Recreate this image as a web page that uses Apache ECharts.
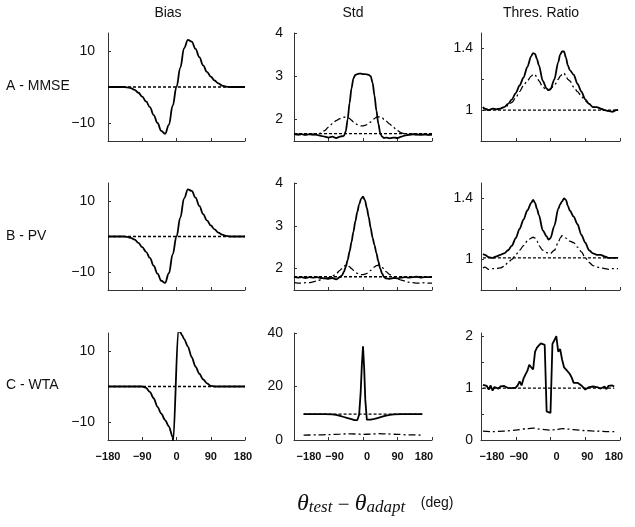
<!DOCTYPE html>
<html>
<head>
<meta charset="utf-8">
<script src="https://cdn.jsdelivr.net/npm/echarts@6/dist/echarts.min.js"></script>
<style>
html,body{margin:0;padding:0;background:#fff;}
#chart{width:635px;height:527px;}
</style>
</head>
<body>
<div id="chart"></div>
<script>
// ---------- data ----------
const colTitles = ['Bias', 'Std', 'Thres. Ratio'];
const rowTitles = ['A - MMSE', 'B - PV', 'C - WTA'];
const xTicks = [-180, -90, 0, 90, 180];

// Column 1 : Bias
const biasX = [-180,-170,-160,-150,-140,-130,-120,-110,-100,-90,-80,-70,-60,-50,-40,-30,-20,-10,0,10,20,30,40,50,60,70,80,90,100,110,120,130,140,150,160,170,180];
const biasMMSE = [0,0,0,0,0,-0.1,-0.3,-0.8,-1.6,-2.7,-4.0,-5.6,-7.8,-10.0,-12.2,-13.0,-10.5,-5.2,0,5.4,10.8,13.1,12.6,10.6,8.3,6.0,4.2,2.9,1.8,1.0,0.4,0.1,0,0,0,0,0];
const biasPV = [0,0,0,0,0,-0.1,-0.4,-0.9,-1.8,-3.0,-4.3,-6.0,-8.2,-10.4,-12.4,-13.0,-10.3,-5.0,0,5.3,10.7,13.2,12.8,10.9,8.6,6.3,4.5,3.1,2.0,1.1,0.5,0.2,0,0,0,0,0];
const biasWTAX = [-180,-160,-140,-120,-100,-90,-80,-70,-60,-50,-40,-30,-20,-10,-9,5,10,15,20,30,40,50,60,70,80,90,100,120,140,160,180];
const biasWTA = [0,0,0,0,0,0,-0.4,-1.5,-3.3,-5.7,-7.6,-9.4,-11.2,-14.2,-15.5,16,15.2,14.3,13.3,11.2,8.2,5.6,3.6,2.0,0.9,0.2,0,0,0,0,0];
const biasRefX = [-180, 180];
const biasRef = [0, 0];

// Column 2 : Std
const stdX = [-180,-170,-160,-150,-140,-130,-120,-110,-100,-90,-80,-70,-60,-55,-50,-45,-40,-35,-30,-25,-20,-15,-10,-5,0,5,10,15,20,25,30,35,40,45,50,55,60,70,80,90,100,110,120,130,140,150,160,170,180];
const stdMMSE = [1.67,1.65,1.66,1.64,1.66,1.65,1.64,1.62,1.6,1.58,1.6,1.57,
  1.6,1.61,1.62,1.72,2.0,2.38,2.72,2.95,3.03,3.05,3.06,3.06,3.05,3.05,3.04,3.03,3.0,2.85,2.55,2.2,1.9,1.68,1.6,1.57,1.58,
  1.56,1.58,1.57,1.6,1.63,1.64,1.66,1.65,1.64,1.65,1.64,1.65];
const stdMMSEdd = [1.65,1.65,1.65,1.65,1.65,1.65,1.66,1.68,1.74,1.82,1.9,1.97,
  2.02,2.04,2.05,2.06,2.05,2.02,1.98,1.94,1.91,1.88,1.86,1.85,1.85,1.86,1.88,1.91,1.94,1.98,2.02,2.05,2.06,2.06,2.04,2.0,1.96,
  1.89,1.81,1.74,1.69,1.66,1.65,1.65,1.65,1.65,1.65,1.65,1.65];
const stdMMSEref = [1.67, 1.67];
const stdPV = [1.81,1.79,1.8,1.78,1.8,1.79,1.8,1.78,1.77,1.76,1.78,1.75,
  1.8,1.84,1.92,2.04,2.2,2.4,2.62,2.86,3.1,3.32,3.5,3.63,3.68,3.6,3.42,3.2,2.95,2.72,2.55,2.36,2.17,2.0,1.88,1.8,1.77,
  1.76,1.78,1.77,1.79,1.8,1.79,1.8,1.81,1.79,1.8,1.8,1.8];
const stdPVdd = [1.67,1.66,1.66,1.67,1.67,1.69,1.71,1.74,1.77,1.79,1.82,1.88,
  1.96,2.0,2.05,2.08,2.07,2.04,2.0,1.96,1.92,1.89,1.87,1.86,1.86,1.87,1.89,1.92,1.96,2.0,2.04,2.07,2.08,2.07,2.03,1.98,1.93,
  1.86,1.8,1.76,1.73,1.71,1.68,1.67,1.66,1.66,1.67,1.66,1.66];
const stdPVref = [1.81, 1.81];
const stdRefX = [-180, 180];
const stdWTAX = [-155,-140,-120,-100,-80,-70,-60,-50,-40,-30,-22,-15,-10,-6,-3,0,3,6,10,15,20,30,40,50,60,70,80,100,120,140,155];
const stdWTA = [9.7,9.7,9.7,9.7,9.6,9.4,9.0,8.6,8.2,7.8,7.4,7.4,9.5,18,28,35,27,15,7.6,7.5,7.6,7.9,8.3,8.7,9.1,9.4,9.6,9.7,9.7,9.7,9.7];
const stdWTAddX = [-155,-120,-90,-60,-40,-20,0,20,40,60,90,120,155];
const stdWTAdd = [1.8,1.9,2.0,2.2,2.3,2.25,2.1,2.2,2.35,2.3,2.1,1.9,1.85];
const stdWTArefX = [-155, 155];
const stdWTAref = [9.7, 9.7];

// Column 3 : Threshold ratio
const thrX = [-175,-170,-160,-150,-140,-130,-120,-110,-100,-90,-80,-70,-60,-50,-45,-40,-35,-30,-20,-10,-5,0,10,20,25,30,35,40,45,50,60,70,80,90,100,110,120,130,140,150,160,170,175];
const thrMMSE = [1.02,1.01,
  1.0,1.01,1.005,1.01,1.02,1.04,1.07,1.11,1.16,1.21,1.28,1.35,
  1.37,1.365,1.33,1.29,
  1.19,1.14,1.13,1.135,
  1.2,1.31,1.36,1.38,1.38,1.34,1.29,1.26,
  1.23,1.17,1.12,1.07,1.04,1.02,1.02,1.01,1.0,0.995,0.99,1.0,
  1.0];
const thrMMSEdd = [1.02,1.01,
  1.0,1.01,1.005,1.01,1.02,1.03,1.05,1.08,1.12,1.16,1.19,1.22,
  1.23,1.23,1.21,1.19,
  1.15,1.13,1.13,1.14,
  1.16,1.2,1.22,1.23,1.24,1.22,1.2,1.19,
  1.15,1.12,1.09,1.06,1.04,1.02,1.02,1.01,1.0,0.995,0.99,1.0,
  1.0];
const thrPV = [1.035,1.03,
  1.015,1.01,1.02,1.03,1.04,1.06,1.09,1.14,1.2,1.26,1.32,1.37,
  1.39,1.37,1.33,1.29,
  1.19,1.15,1.13,1.14,
  1.22,1.33,1.36,1.38,1.4,1.39,1.35,1.32,
  1.28,1.23,1.16,1.11,1.06,1.04,1.03,1.03,1.02,1.01,1.01,1.01,
  1.01];
const thrPVdd = [0.945,0.95,
  0.935,0.94,0.94,0.945,0.955,0.98,1.0,1.03,1.06,1.09,1.12,1.14,
  1.145,1.14,1.12,1.09,
  1.06,1.045,1.04,1.04,
  1.06,1.11,1.14,1.155,1.15,1.14,1.13,1.12,
  1.11,1.08,1.05,1.01,0.98,0.96,0.95,0.945,0.94,0.935,0.94,0.94,
  0.94];
const thrRefX = [-175, 175];
const thrMMSEref = [1.0, 1.0];
const thrPVref = [1.01, 1.01];
const thrWTAX = [-175,-170,-165,-160,-155,-150,-145,-140,-135,-130,-125,-120,-115,-110,-105,-100,
  -95,-90,-85,-80,-75,-70,-65,-60,-55,-50,-45,-40,-35,-30,-25,-20,-15,-10,-5,0,
  5,10,15,20,25,30,35,40,45,50,55,60,65,70,75,80,85,90,95,100,
  105,110,115,120,125,130,135,140,145,150,155,160,165];
const thrWTA = [1.06,1.03,1.04,0.97,1.05,0.95,1.02,1.04,0.99,1.03,1.01,1.04,1.03,1.0,1.01,1.0,
  1.02,1.01,1.05,1.13,1.05,1.18,1.26,1.33,1.45,1.4,1.36,1.7,1.78,1.82,1.86,1.85,1.83,0.55,0.52,0.52,
  1.85,1.92,2.0,1.7,1.75,1.55,1.4,1.36,1.33,1.27,1.2,1.1,1.09,1.1,1.07,1.05,1.02,0.97,1.0,1.02,
  1.01,1.03,1.01,1.02,1.0,0.99,0.97,1.03,0.98,1.04,1.02,1.05,1.03];
const thrWTAddX = [-175,-150,-120,-90,-60,-45,-30,-15,0,15,30,45,60,90,120,150,165];
const thrWTAdd = [0.17,0.16,0.17,0.19,0.22,0.23,0.21,0.2,0.19,0.2,0.22,0.21,0.2,0.18,0.17,0.16,0.16];
const thrWTArefX = [-175, 165];
const thrWTAref = [1.0, 1.0];

// y-axis ranges / ticks / labels per panel (row-major)
const yMin = [-15, 1.5, 0.8, -15, 1.5, 0.8, -15, 0, 0];
const yMax = [15, 4, 1.5, 15, 4, 1.5, 15, 40, 2.06];
const yLabelVals = [[-10,10],[2,3,4],[1,1.4],[-10,10],[2,3,4],[1,1.4],[-10,10],[0,20,40],[0,1,2]];
const yTickVals = [[-10,0,10],[2,3,4],[1,1.2,1.4],[-10,0,10],[2,3,4],[1,1.2,1.4],[-10,0,10],[0,20,40],[0,0.5,1,1.5,2]];

// ---------- layout ----------
const colLeft = [108, 294, 481];
const colWidth = [137, 138, 139];
const rowTop = [33, 183, 333];
const rowHeight = [108, 107, 107];
const labelMargin = [13, 11, 8];
// horizontal nudges of the bottom tick labels (px), per column, per tick
const xLabelShift = [[0, 0, 0, 0, -2], [15, 6, 4, 0, -8], [11, 3, 6, 2, -6]];

const pairs = (xs, ys) => xs.map((x, i) => [x, ys[i]]);
const minus = v => (v < 0 ? '\u2212' + (-v) : String(v));

const SOLID = { color: '#000', width: 1.8, type: 'solid' };
const DOTTED = { color: '#000', width: 1.3, type: [3, 2] };
const DASHDOT = { color: '#000', width: 1.3, type: [7, 3, 2, 3] };

const grids = [], xAxes = [], yAxes = [];
for (let r = 0; r < 3; r++) {
  for (let c = 0; c < 3; c++) {
    const i = r * 3 + c;
    grids.push({ left: colLeft[c], top: rowTop[r], width: colWidth[c], height: rowHeight[r], containLabel: false });
    const rich = {};
    xTicks.forEach((t, k) => {
      const s = xLabelShift[c][k];
      rich['p' + k] = {
        fontSize: 11, fontWeight: 'bold', color: '#111', fontFamily: 'Liberation Sans, Arial, sans-serif',
        padding: s >= 0 ? [0, 0, 0, 2 * s] : [0, -2 * s, 0, 0]
      };
    });
    xAxes.push({
      type: 'value', gridIndex: i, min: -180, max: 180, interval: 90,
      axisLine: { onZero: false, lineStyle: { color: '#333', width: 1 } },
      axisTick: { inside: true, length: 3, lineStyle: { color: '#333' } },
      splitLine: { show: false },
      axisLabel: {
        show: r === 2, fontSize: 11, fontWeight: 'bold', color: '#111',
        fontFamily: 'Liberation Sans, Arial, sans-serif', margin: 11,
        formatter: v => '{p' + xTicks.indexOf(v) + '|' + minus(v) + '}',
        rich: rich
      }
    });
    yAxes.push({
      type: 'value', gridIndex: i, min: yMin[i], max: yMax[i],
      axisLine: { show: true, onZero: false, lineStyle: { color: '#333', width: 1 } },
      axisTick: { show: true, inside: true, length: 3, customValues: yTickVals[i], lineStyle: { color: '#333' } },
      splitLine: { show: false },
      axisLabel: {
        customValues: yLabelVals[i], fontSize: 14, color: '#111',
        fontFamily: 'Liberation Sans, Arial, sans-serif', margin: labelMargin[c],
        formatter: minus
      }
    });
  }
}

const series = [];
function add(i, xs, ys, style, smooth) {
  series.push({
    type: 'line', xAxisIndex: i, yAxisIndex: i, data: pairs(xs, ys),
    symbol: 'none', showSymbol: false, lineStyle: style,
    smooth: smooth || false, smoothMonotone: 'x', clip: true, silent: true, animation: false
  });
}
// row A
add(0, biasRefX, biasRef, DOTTED);
add(0, biasX, biasMMSE, SOLID, 0.4);
add(1, stdRefX, stdMMSEref, DOTTED);
add(1, stdX, stdMMSEdd, DASHDOT, 0.3);
add(1, stdX, stdMMSE, SOLID, 0.3);
add(2, thrRefX, thrMMSEref, DOTTED);
add(2, thrX, thrMMSEdd, DASHDOT, 0.3);
add(2, thrX, thrMMSE, SOLID, 0.3);
// row B
add(3, biasRefX, biasRef, DOTTED);
add(3, biasX, biasPV, SOLID, 0.4);
add(4, stdRefX, stdPVref, DOTTED);
add(4, stdX, stdPVdd, DASHDOT, 0.3);
add(4, stdX, stdPV, SOLID, 0.3);
add(5, thrRefX, thrPVref, DOTTED);
add(5, thrX, thrPVdd, DASHDOT, 0.3);
add(5, thrX, thrPV, SOLID, 0.3);
// row C
add(6, biasRefX, biasRef, DOTTED);
add(6, biasWTAX, biasWTA, SOLID, 0.3);
add(7, stdWTArefX, stdWTAref, DOTTED);
add(7, stdWTAddX, stdWTAdd, DASHDOT, 0.3);
add(7, stdWTAX, stdWTA, SOLID, false);
add(8, thrWTArefX, thrWTAref, DOTTED);
add(8, thrWTAddX, thrWTAdd, DASHDOT, 0.3);
add(8, thrWTAX, thrWTA, SOLID, false);

// texts
const colTitleX = [168, 353, 541];
const rowTitleY = [86, 236, 385];
const graphics = [];
colTitles.forEach((t, c) => graphics.push({
  type: 'text', x: colTitleX[c], y: 13,
  style: { text: t, fontSize: 14, fill: '#111', fontFamily: 'Liberation Sans, Arial, sans-serif', align: 'center', verticalAlign: 'middle' }
}));
rowTitles.forEach((t, r) => graphics.push({
  type: 'text', x: 6, y: rowTitleY[r],
  style: { text: t, fontSize: 14, fill: '#111', fontFamily: 'Liberation Sans, Arial, sans-serif', align: 'left', verticalAlign: 'middle' }
}));
graphics.push({
  type: 'text', x: 297, y: 490,
  style: {
    text: '{t|θ}{s|test}{m| − }{t|θ}{s|adapt}{d|    (deg)}',
    fill: '#111',
    rich: {
      t: { fontFamily: 'Liberation Serif, serif', fontStyle: 'italic', fontSize: 24, lineHeight: 26, verticalAlign: 'bottom' },
      s: { fontFamily: 'Liberation Serif, serif', fontStyle: 'italic', fontSize: 17, lineHeight: 17, verticalAlign: 'bottom' },
      m: { fontFamily: 'Liberation Serif, serif', fontSize: 21, lineHeight: 26, verticalAlign: 'bottom' },
      d: { fontFamily: 'Liberation Sans, Arial, sans-serif', fontSize: 14, lineHeight: 18, verticalAlign: 'middle' }
    }
  }
});

const chart = echarts.init(document.getElementById('chart'), null, { renderer: 'canvas' });
chart.setOption({
  animation: false,
  backgroundColor: '#fff',
  grid: grids,
  xAxis: xAxes,
  yAxis: yAxes,
  series: series,
  graphic: graphics
});
</script>
</body>
</html>
